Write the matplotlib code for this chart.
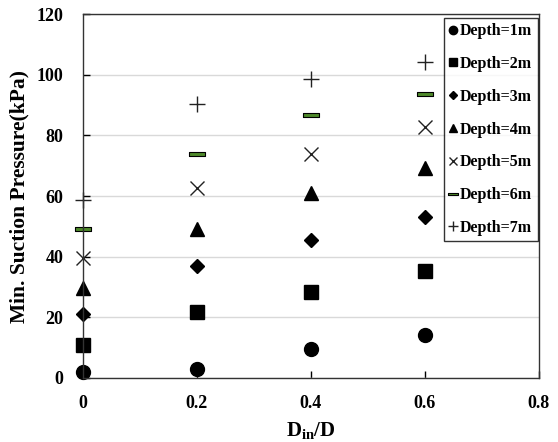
import matplotlib
matplotlib.use("Agg")
import matplotlib.pyplot as plt

plt.rcParams['font.family'] = ['Liberation Serif', 'DejaVu Serif']
plt.rcParams['font.weight'] = 'bold'
plt.rcParams['mathtext.fontset'] = 'custom'
plt.rcParams['mathtext.rm'] = 'Liberation Serif:bold'
plt.rcParams['mathtext.bf'] = 'Liberation Serif:bold'
plt.rcParams['mathtext.it'] = 'Liberation Serif:bold'

x_vals = [0.0, 0.2, 0.4, 0.6]
depth_labels = ['Depth=1m', 'Depth=2m', 'Depth=3m', 'Depth=4m',
                'Depth=5m', 'Depth=6m', 'Depth=7m']
depth1 = [2.0, 3.0, 9.6, 14.2]
depth2 = [10.8, 21.8, 28.5, 35.4]
depth3 = [21.0, 37.0, 45.5, 53.2]
depth4 = [29.8, 49.0, 61.0, 69.2]
depth5 = [39.5, 62.6, 74.0, 82.6]
depth6 = [49.2, 74.0, 86.6, 93.6]
depth7 = [58.8, 90.3, 98.6, 104.3]
series = [depth1, depth2, depth3, depth4, depth5, depth6, depth7]

bar_marker = [(-1, -0.22), (1, -0.22), (1, 0.22), (-1, 0.22), (-1, -0.22)]
styles = [
    dict(marker='o', ms=10, mfc='black', mec='black'),
    dict(marker='s', ms=9.5, mfc='black', mec='black'),
    dict(marker='D', ms=7, mfc='black', mec='black'),
    dict(marker='^', ms=10, mfc='black', mec='black'),
    dict(marker='x', ms=10, mfc='none', mec='#222222', mew=1.0),
    dict(marker=bar_marker, ms=12, mfc='#4f8a2b', mec='black', mew=0.8),
    dict(marker='+', ms=11, mfc='none', mec='#222222', mew=1.0),
]

fig = plt.figure(figsize=(5.58, 4.42), dpi=100)
ax = fig.add_axes([0.1487, 0.1448, 0.8172, 0.8235])

for vals, lab, st in zip(series, depth_labels, styles):
    ax.plot(x_vals, vals, linestyle='none', label=lab, clip_on=False, **st)

ax.set_xlim(0, 0.8)
ax.set_ylim(0, 120)
ax.set_xticks([0, 0.2, 0.4, 0.6, 0.8])
ax.set_xticklabels(['0', '0.2', '0.4', '0.6', '0.8'])
ax.set_yticks([0, 20, 40, 60, 80, 100, 120])
ax.yaxis.grid(True, color='#d9d9d9', linewidth=1.0)
ax.set_axisbelow(True)
ax.tick_params(direction='in', length=5, width=1, labelsize=13)
ax.tick_params(axis='x', pad=12)
ax.tick_params(axis='y', pad=14)
for lbl in ax.get_xticklabels() + ax.get_yticklabels():
    lbl.set_fontweight('bold')
for sp in ax.spines.values():
    sp.set_linewidth(1.0)
    sp.set_color('#333333')

ax.set_xlabel(r'D$_{\mathrm{in}}$/D', fontsize=15, fontweight='bold', labelpad=6)
ax.set_ylabel('Min. Suction Pressure(kPa)', fontsize=15.5, fontweight='bold', labelpad=5)

leg = ax.legend(loc='upper right', bbox_to_anchor=(0.997, 0.99),
                markerscale=0.6, handlelength=0.5, handletextpad=0.15,
                labelspacing=1.05, borderpad=0.35, borderaxespad=0.0,
                frameon=True, fancybox=False, edgecolor='black',
                prop={'weight': 'bold', 'size': 11.5})
leg.get_frame().set_linewidth(1.0)

fig.savefig('out.png', dpi=100)
